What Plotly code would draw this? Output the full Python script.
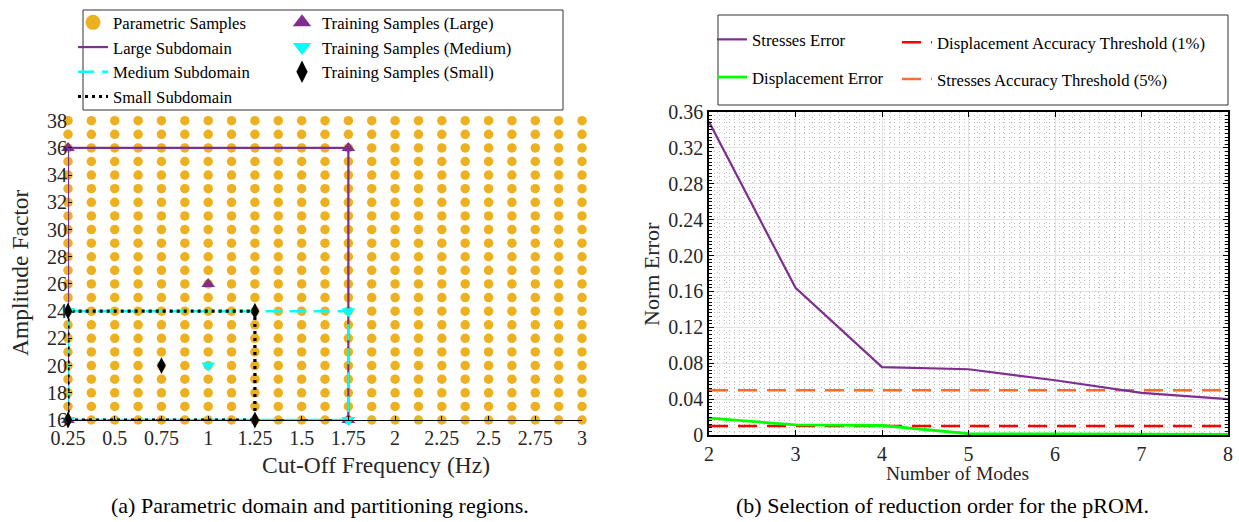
import plotly.graph_objects as go

W, H = 1239, 522
FONT = "Liberation Serif"
TXT = "#262626"

# ---------------- Parametric domain (left panel) ----------------
freq_grid = [0.25, 0.375, 0.5, 0.625, 0.75, 0.875, 1.0, 1.125, 1.25, 1.375, 1.5, 1.625,
             1.75, 1.875, 2.0, 2.125, 2.25, 2.375, 2.5, 2.625, 2.75, 2.875, 3.0]
amp_grid = [16, 17, 18, 19, 20, 21, 22, 23, 24, 25, 26, 27, 28, 29, 30, 31, 32, 33, 34,
            35, 36, 37, 38]

large_f = [0.25, 1.75, 1.75, 0.25, 0.25]
large_a = [16, 16, 36, 36, 16]
medium_f = [0.25, 1.75, 1.75, 0.25, 0.25]
medium_a = [16, 16, 24, 24, 16]
small_f = [0.25, 1.25, 1.25, 0.25, 0.25]
small_a = [16, 16, 24, 24, 16]

train_large_f = [0.25, 1.75, 1.0, 0.25, 1.75]
train_large_a = [16, 16, 26, 36, 36]
train_medium_f = [0.25, 1.75, 1.0, 0.25, 1.75]
train_medium_a = [16, 16, 20, 24, 24]
train_small_f = [0.25, 1.25, 0.75, 0.25, 1.25]
train_small_a = [16, 16, 20, 24, 24]

freq_ticks = [0.25, 0.5, 0.75, 1, 1.25, 1.5, 1.75, 2, 2.25, 2.5, 2.75, 3]
freq_tick_text = ["0.25", "0.5", "0.75", "1", "1.25", "1.5", "1.75", "2", "2.25", "2.5", "2.75", "3"]
amp_ticks = [16, 18, 20, 22, 24, 26, 28, 30, 32, 34, 36, 38]

# ---------------- Reduction order (right panel) ----------------
modes = [2, 3, 4, 5, 6, 7, 8]
stress_err = [0.349, 0.164, 0.0756, 0.0733, 0.061, 0.047, 0.040]
disp_err = [0.0188, 0.0112, 0.0106, 0.0014, 0.0012, 0.0010, 0.0008]
disp_threshold = 0.01
stress_threshold = 0.05
err_ticks = [0, 0.04, 0.08, 0.12, 0.16, 0.20, 0.24, 0.28, 0.32, 0.36]
err_tick_text = ["0", "0.04", "0.08", "0.12", "0.16", "0.20", "0.24", "0.28", "0.32", "0.36"]

ORANGE_DOT = "#EDB120"
PURPLE = "#7E2F8E"
CYAN = "#00FFFF"
GREEN = "#00FF00"
RED = "#FF0000"
ORANGE = "#FF6B2B"

grid_f = [f for a in amp_grid for f in freq_grid]
grid_a = [a for a in amp_grid for f in freq_grid]

fig = go.Figure()

# parameter samples
fig.add_trace(go.Scatter(x=grid_f, y=grid_a, mode="markers", cliponaxis=False,
                         marker=dict(color=ORANGE_DOT, size=9.5), showlegend=False,
                         xaxis="x", yaxis="y"))
# subdomain outlines
fig.add_trace(go.Scatter(x=large_f, y=large_a, mode="lines", name="Large Subdomain",
                         line=dict(color=PURPLE, width=2.2), cliponaxis=False,
                         legend="legend", legendrank=2, xaxis="x", yaxis="y"))
fig.add_trace(go.Scatter(x=medium_f, y=medium_a, mode="lines", name="Medium Subdomain",
                         line=dict(color=CYAN, width=2.5, dash="16px,8px"), cliponaxis=False,
                         legend="legend", legendrank=3, xaxis="x", yaxis="y"))
fig.add_trace(go.Scatter(x=small_f, y=small_a, mode="lines", name="Small Subdomain",
                         line=dict(color="black", width=3.2, dash="3px,4px"), cliponaxis=False,
                         legend="legend", legendrank=4, xaxis="x", yaxis="y"))
# training samples
fig.add_trace(go.Scatter(x=train_large_f, y=train_large_a, mode="markers", cliponaxis=False,
                         marker=dict(symbol="triangle-up", color=PURPLE, size=12),
                         showlegend=False, xaxis="x", yaxis="y"))
fig.add_trace(go.Scatter(x=train_medium_f, y=train_medium_a, mode="markers", cliponaxis=False,
                         marker=dict(symbol="triangle-down", color=CYAN, size=12),
                         showlegend=False, xaxis="x", yaxis="y"))
fig.add_trace(go.Scatter(x=train_small_f, y=train_small_a, mode="markers", cliponaxis=False,
                         marker=dict(symbol="diamond-tall", color="black", size=12),
                         showlegend=False, xaxis="x", yaxis="y"))

# legend entries with larger symbols
fig.add_trace(go.Scatter(x=[None], y=[None], mode="markers", name="Parametric Samples",
                         marker=dict(color=ORANGE_DOT, size=15), legend="legend",
                         legendrank=1, xaxis="x", yaxis="y"))
fig.add_trace(go.Scatter(x=[None], y=[None], mode="markers", name="Training Samples (Large)",
                         marker=dict(symbol="triangle-up", color=PURPLE, size=16),
                         legend="legend2", xaxis="x", yaxis="y"))
fig.add_trace(go.Scatter(x=[None], y=[None], mode="markers", name="Training Samples (Medium)",
                         marker=dict(symbol="triangle-down", color=CYAN, size=16),
                         legend="legend2", xaxis="x", yaxis="y"))
fig.add_trace(go.Scatter(x=[None], y=[None], mode="markers", name="Training Samples (Small)",
                         marker=dict(symbol="diamond-tall", color="black", size=16),
                         legend="legend2", xaxis="x", yaxis="y"))

# right panel: thresholds then errors
fig.add_trace(go.Scatter(x=[modes[0], modes[-1]], y=[disp_threshold, disp_threshold],
                         mode="lines", name="Displacement Accuracy Threshold (1%)",
                         line=dict(color=RED, width=2.5, dash="19px,10px"),
                         legend="legend4", legendgroup="d_thr", xaxis="x2", yaxis="y2"))
fig.add_trace(go.Scatter(x=[modes[0], modes[-1]], y=[stress_threshold, stress_threshold],
                         mode="lines", name="Stresses Accuracy Threshold (5%)",
                         line=dict(color=ORANGE, width=2.5, dash="19px,10px"),
                         legend="legend4", legendgroup="s_thr", xaxis="x2", yaxis="y2"))
fig.add_trace(go.Scatter(x=modes, y=stress_err, mode="lines", name="Stresses Error",
                         line=dict(color=PURPLE, width=2.2), cliponaxis=False,
                         legend="legend3", legendgroup="s_err", xaxis="x2", yaxis="y2"))
fig.add_trace(go.Scatter(x=modes, y=disp_err, mode="lines", name="Displacement Error",
                         line=dict(color=GREEN, width=2.8), cliponaxis=False,
                         legend="legend3", legendgroup="d_err", xaxis="x2", yaxis="y2"))


def px_x(p):
    return p / W


def px_y(p):
    return 1 - p / H


leg_common = dict(bgcolor="rgba(0,0,0,0)", borderwidth=0, xanchor="left", yanchor="top",
                  font=dict(family=FONT, size=16.7, color="black"))


def label(text, x, y, size=21, angle=0, color=TXT):
    return dict(text=text, x=px_x(x), y=px_y(y), xref="paper", yref="paper",
                xanchor="center", yanchor="middle", textangle=angle, showarrow=False,
                font=dict(family=FONT, size=size, color=color))


fig.update_layout(
    width=W, height=H, margin=dict(l=0, r=0, t=0, b=0, autoexpand=False),
    paper_bgcolor="white", plot_bgcolor="white",
    font=dict(family=FONT, color=TXT),
    legend=dict(x=px_x(73), y=px_y(5), tracegroupgap=0, **leg_common),
    legend2=dict(x=px_x(282), y=px_y(5), **leg_common),
    legend3=dict(x=px_x(712), y=px_y(22), traceorder="grouped", tracegroupgap=13, **leg_common),
    legend4=dict(x=px_x(897), y=px_y(25), traceorder="grouped", tracegroupgap=12, **leg_common),
    xaxis=dict(domain=[px_x(68), px_x(582)], range=[0.25, 3], tickvals=freq_ticks,
               ticktext=freq_tick_text, ticks="inside", ticklen=4, tickcolor="black",
               showline=True, linecolor="black", linewidth=1, showgrid=False, zeroline=False,
               tickfont=dict(family=FONT, size=20, color=TXT), anchor="y"),
    yaxis=dict(domain=[px_y(420), px_y(120.7)], range=[16, 38], tickvals=amp_ticks,
               ticks="inside", ticklen=4, tickcolor="black", showline=False,
               showgrid=False, zeroline=False, ticklabelstandoff=0,
               tickfont=dict(family=FONT, size=20, color=TXT), anchor="x"),
    xaxis2=dict(domain=[px_x(709), px_x(1228)], range=[2, 8], tickvals=modes,
                ticks="inside", ticklen=5, tickcolor="black",
                showline=True, linecolor="black", linewidth=1.5, mirror="allticks",
                showgrid=True, gridcolor="#e3e3e3", gridwidth=1, zeroline=False,
                minor=dict(dtick=0.1, showgrid=True, griddash="1px,4px", gridcolor="#bdbdbd",
                           gridwidth=1, ticks=""),
                tickfont=dict(family=FONT, size=20, color=TXT), anchor="y2"),
    yaxis2=dict(domain=[px_y(435), px_y(112)], range=[0, 0.36], tickvals=err_ticks,
                ticktext=err_tick_text, ticks="inside", ticklen=5, tickcolor="black",
                showline=True, linecolor="black", linewidth=1.5, mirror="allticks",
                showgrid=True, gridcolor="#e3e3e3", gridwidth=1, zeroline=False,
                minor=dict(dtick=0.004, showgrid=True, griddash="1px,4px", gridcolor="#bdbdbd",
                           gridwidth=1, ticks="inside", ticklen=3, tickcolor="black"),
                tickfont=dict(family=FONT, size=20, color=TXT), anchor="x2"),
    shapes=[
        dict(type="rect", xref="paper", yref="paper", x0=px_x(83), x1=px_x(563),
             y0=px_y(110), y1=px_y(10), line=dict(color="#333333", width=1)),
        dict(type="rect", xref="paper", yref="paper", x0=px_x(718), x1=px_x(1228),
             y0=px_y(105), y1=px_y(15), line=dict(color="#333333", width=1)),
    ],
    annotations=[
        label("Amplitude Factor", 20, 273, size=23.5, angle=-90),
        label("Cut-Off Frequency (Hz)", 376, 465, size=23.5),
        label("Norm Error", 651, 274, size=22, angle=-90),
        label("Number of Modes", 957, 473, size=19.5),
        label("(a) Parametric domain and partitioning regions.", 320, 505, size=22,
              color="black"),
        label("(b) Selection of reduction order for the pROM.", 942, 505, size=22,
              color="black"),
    ],
)

fig.write_html("out.html")
